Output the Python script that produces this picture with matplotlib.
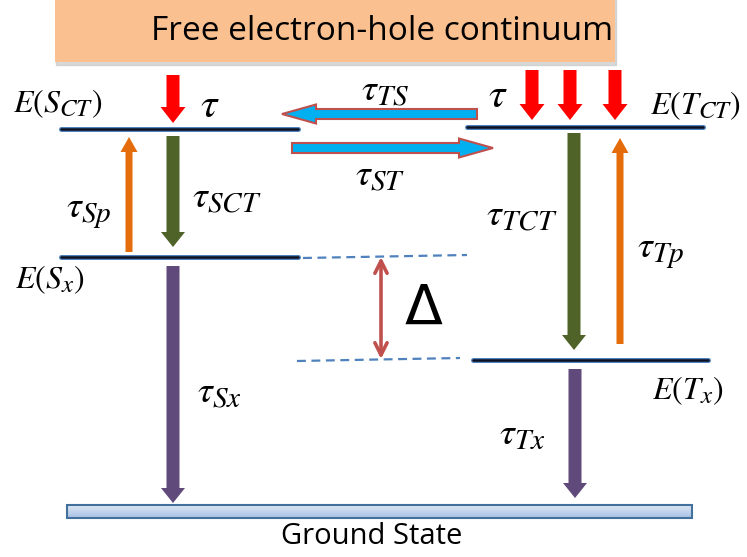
import numpy as np
import matplotlib
matplotlib.use("Agg")
import matplotlib.pyplot as plt
import matplotlib.patches as mpatches
import matplotlib.patheffects as pe
import matplotlib._mathtext as _mt

plt.rcParams["mathtext.fontset"] = "stix"
_mt.SHRINK_FACTOR = 0.78  # larger subscripts, closer to Cambria Math look

# ---------------------------------------------------------------------------
# Diagram data (pixel-like units, y grows downward)
# ---------------------------------------------------------------------------
level_names  = ["S_CT", "S_x", "T_CT", "T_x"]
level_y      = [129, 257, 127, 360]
level_x0     = [61, 61, 467, 473]
level_x1     = [298, 298, 703, 708]
level_labels = [r"$E(S_{CT})$", r"$E(S_x)$", r"$E(T_{CT})$", r"$E(T_x)$"]
label_xy     = [(13, 104), (15, 280), (650, 106), (652, 391)]

ground_y = (505, 518)
ground_x = (67, 692)

# vertical transitions: x, y_start, y_end, colour, shaft width, label, label pos
trans_x      = [173, 129, 173, 574, 620, 575]
trans_y0     = [136, 252, 266, 133, 344, 369]
trans_y1     = [247, 137, 503, 350, 138, 498]
trans_color  = ["#4F6228", "#E46C0A", "#604A7B", "#4F6228", "#E46C0A", "#604A7B"]
trans_width  = [13, 7, 13, 13, 7, 13]
trans_labels = [r"$\tau_{SCT}$", r"$\tau_{Sp}$", r"$\tau_{Sx}$",
                r"$\tau_{TCT}$", r"$\tau_{Tp}$", r"$\tau_{Tx}$"]
trans_lab_xy = [(192, 197), (66, 212), (197, 392),
                (486, 215), (637, 252), (499, 435)]

# feeding arrows from continuum
feed_x  = [173, 532, 570, 615]
feed_y0 = [75, 70, 70, 70]
feed_y1 = [123, 120, 120, 120]

# intersystem crossing (horizontal)
isc_x0     = [477, 292]
isc_x1     = [282, 493]
isc_y      = [114, 148]
isc_labels = [r"$\tau_{TS}$", r"$\tau_{ST}$"]
isc_lab_xy = [(385, 90), (380, 175)]

fig = plt.figure(figsize=(7.47, 5.57), dpi=100)
ax = fig.add_axes([0, 0, 1, 1])
ax.set_xlim(0, 747)
ax.set_ylim(557, 0)
ax.axis("off")

# --- continuum box ---
ax.add_patch(mpatches.Rectangle((56, -5), 560, 70, color="#c8c8c8", alpha=0.7, zorder=1))
ax.add_patch(mpatches.Rectangle((55, -5), 560, 67, facecolor="#FAC090",
                                edgecolor="none", zorder=2))
ax.text(382, 32, "Free electron-hole continuum", ha="center", va="center",
        fontsize=24, family="Open Sans", zorder=3)

# --- levels ---
for y, x0, x1, lab, (lx, ly) in zip(level_y, level_x0, level_x1, level_labels, label_xy):
    ax.plot([x0, x1], [y, y], color="#0d1020", lw=1.8, solid_capstyle="round",
            path_effects=[pe.Stroke(linewidth=3.6, foreground="#4F81BD"), pe.Normal()],
            zorder=4)
    ax.text(lx, ly, lab, ha="left", va="center", fontsize=23)

# dashed guide lines for the gap
ax.plot([303, 467], [258, 255], ls=(0, (4, 2.5)), color="#4F81BD", lw=1.6)
ax.plot([297, 460], [361, 358], ls=(0, (4, 2.5)), color="#4F81BD", lw=1.6)
ax.annotate("", xy=(381, 257), xytext=(381, 359),
            arrowprops=dict(arrowstyle="<->", color="#C0504D", lw=2.6,
                            mutation_scale=22, shrinkA=0, shrinkB=0))
ax.text(424, 309, "\u0394", ha="center", va="center", fontsize=40, family="DejaVu Sans")

# --- ground state bar with gradient ---
grad = np.linspace(0, 1, 50).reshape(-1, 1)
cmap = matplotlib.colors.LinearSegmentedColormap.from_list("g", ["#DCE6F2", "#A9C1E6"])
ax.imshow(grad, extent=(ground_x[0], ground_x[1], ground_y[1], ground_y[0]),
          cmap=cmap, aspect="auto", zorder=3)
ax.add_patch(mpatches.Rectangle((ground_x[0], ground_y[0]), ground_x[1] - ground_x[0],
                                ground_y[1] - ground_y[0], facecolor="none",
                                edgecolor="#41719C", lw=1.5, zorder=4))
ax.text(372, 537, "Ground State", ha="center", va="center", fontsize=21, family="Open Sans")

# --- vertical transitions ---
for x, y0, y1, c, w, lab, (lx, ly) in zip(trans_x, trans_y0, trans_y1, trans_color,
                                          trans_width, trans_labels, trans_lab_xy):
    hw = 24 if w > 10 else 17
    ax.add_patch(mpatches.FancyArrow(x, y0, 0, y1 - y0, width=w, head_width=hw,
                                     head_length=15, length_includes_head=True,
                                     color=c, lw=0, zorder=5))
    ax.text(lx, ly, lab, ha="left", va="center", fontsize=27)

# --- feeding arrows ---
for x, y0, y1 in zip(feed_x, feed_y0, feed_y1):
    ax.add_patch(mpatches.FancyArrow(x, y0, 0, y1 - y0, width=13, head_width=25,
                                     head_length=16, length_includes_head=True,
                                     color="#FF0000", lw=0, zorder=5))
ax.text(210, 105, r"$\tau$", ha="center", va="center", fontsize=30)
ax.text(498, 95, r"$\tau$", ha="center", va="center", fontsize=30)

# --- intersystem crossing arrows ---
for x0, x1, y, lab, (lx, ly) in zip(isc_x0, isc_x1, isc_y, isc_labels, isc_lab_xy):
    ax.add_patch(mpatches.FancyArrow(x0, y, x1 - x0, 0, width=10, head_width=19,
                                     head_length=34, length_includes_head=True,
                                     facecolor="#00B0F0", edgecolor="#C0504D",
                                     lw=1.5, zorder=5))
    ax.text(lx, ly, lab, ha="center", va="center", fontsize=27)

fig.savefig("out.png", dpi=100)
